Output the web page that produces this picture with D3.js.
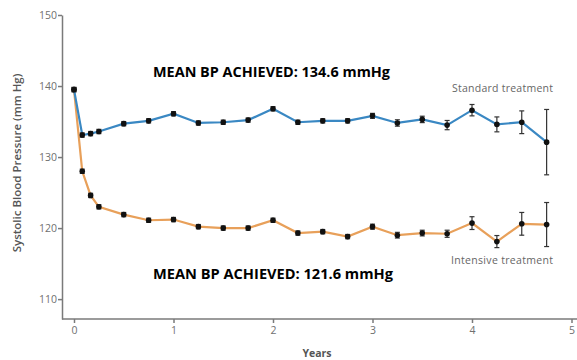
<!DOCTYPE html>
<html>
<head>
<meta charset="utf-8">
<script src="https://d3js.org/d3.v7.min.js"></script>
<style>
body { margin: 0; background: #fff; }
svg { display: block; }
</style>
</head>
<body>
<svg width="577" height="360"></svg>
<script>
// follow-up times (years)
var years = [0, 0.083, 0.167, 0.25, 0.5, 0.75, 1, 1.25, 1.5, 1.75, 2, 2.25, 2.5, 2.75, 3, 3.25, 3.5, 3.75, 4, 4.25, 4.5, 4.75];
var standardBP = [139.5, 133.1, 133.3, 133.6, 134.7, 135.1, 136.1, 134.8, 134.9, 135.2, 136.8, 134.9, 135.1, 135.1, 135.8, 134.8, 135.3, 134.5, 136.6, 134.6, 134.9, 132.1];
var standardErr = [0.3, 0.3, 0.3, 0.3, 0.3, 0.3, 0.3, 0.3, 0.3, 0.3, 0.3, 0.3, 0.3, 0.3, 0.35, 0.45, 0.45, 0.65, 0.8, 1.05, 1.6, 4.6];
var intensiveBP = [139.5, 128.0, 124.6, 123.0, 121.9, 121.1, 121.2, 120.2, 120.0, 120.0, 121.1, 119.3, 119.5, 118.8, 120.2, 119.0, 119.3, 119.2, 120.7, 118.1, 120.6, 120.5];
var intensiveErr = [0.3, 0.3, 0.3, 0.3, 0.3, 0.3, 0.3, 0.3, 0.3, 0.3, 0.3, 0.3, 0.3, 0.3, 0.35, 0.4, 0.4, 0.5, 0.9, 0.85, 1.6, 3.1];
var xTicks = [0, 1, 2, 3, 4, 5];
var yTicks = [110, 120, 130, 140, 150];

var svg = d3.select("svg");
var axisColor = "#7a7a7a";

var x = d3.scaleLinear().domain([0, 5]).range([74, 571.5]);
var y = d3.scaleLinear().domain([107.2, 150]).range([319, 15]);

// axes
var xAxis = svg.append("g")
	.attr("transform", "translate(0,319)")
	.call(d3.axisBottom(x).tickValues(xTicks).tickSize(4).tickSizeOuter(0).tickFormat(d3.format("d")));
xAxis.select(".domain").attr("d", "M62,0H577");

var yAxis = svg.append("g")
	.attr("transform", "translate(62,0)")
	.call(d3.axisLeft(y).tickValues(yTicks).tickSize(4).tickSizeOuter(0));

svg.selectAll(".domain, .tick line")
	.attr("stroke", axisColor)
	.attr("stroke-width", 1.5);
svg.selectAll(".tick text")
	.attr("fill", "#707070")
	.style("font-family", "'Open Sans', sans-serif")
	.style("font-size", "10.5px");
yAxis.selectAll(".tick text").attr("x", -5);
xAxis.selectAll(".tick text").attr("y", 8);

svg.append("text")
	.attr("transform", "translate(21,163) rotate(-90)")
	.attr("text-anchor", "middle")
	.attr("fill", "#555")
	.style("font-family", "'Open Sans', sans-serif")
	.style("font-size", "11.5px")
	.style("font-weight", "600")
	.text("Systolic Blood Pressure (mm Hg)");

svg.append("text")
	.attr("x", 317)
	.attr("y", 356.5)
	.attr("text-anchor", "middle")
	.attr("fill", "#555")
	.style("font-family", "'Open Sans', sans-serif")
	.style("font-size", "10.5px")
	.style("font-weight", "700")
	.text("Years");

function drawSeries(values, errs, color) {
	var pts = years.map(function(t, i) { return {t: t, v: values[i], e: errs[i]}; });
	var line = d3.line().x(function(d) { return x(d.t); }).y(function(d) { return y(d.v); });

	svg.append("path")
		.datum(pts)
		.attr("d", line)
		.attr("fill", "none")
		.attr("stroke", color)
		.attr("stroke-width", 2.2);

	var g = svg.append("g").selectAll("g").data(pts).enter().append("g");
	g.append("line")
		.attr("x1", function(d) { return x(d.t); })
		.attr("x2", function(d) { return x(d.t); })
		.attr("y1", function(d) { return y(d.v - d.e); })
		.attr("y2", function(d) { return y(d.v + d.e); })
		.attr("stroke", "#333")
		.attr("stroke-width", 1.2);
	[-1, 1].forEach(function(s) {
		g.append("line")
			.attr("x1", function(d) { return x(d.t) - 2.5; })
			.attr("x2", function(d) { return x(d.t) + 2.5; })
			.attr("y1", function(d) { return y(d.v + s * d.e); })
			.attr("y2", function(d) { return y(d.v + s * d.e); })
			.attr("stroke", "#333")
			.attr("stroke-width", 1.2);
	});
	g.append("circle")
		.attr("cx", function(d) { return x(d.t); })
		.attr("cy", function(d) { return y(d.v); })
		.attr("r", 2.8)
		.attr("fill", "#111");
}

drawSeries(intensiveBP, intensiveErr, "#e8a05a");
drawSeries(standardBP, standardErr, "#3a88c3");

// labels
svg.append("text")
	.attr("x", 452).attr("y", 92)
	.attr("textLength", 101)
	.attr("fill", "#666")
	.style("font-family", "'Open Sans', sans-serif")
	.style("font-size", "10.5px")
	.text("Standard treatment");
svg.append("text")
	.attr("x", 451).attr("y", 264)
	.attr("textLength", 102)
	.attr("fill", "#666")
	.style("font-family", "'Open Sans', sans-serif")
	.style("font-size", "10.5px")
	.text("Intensive treatment");

svg.append("text")
	.attr("x", 153).attr("y", 76.5)
	.attr("textLength", 237)
	.attr("lengthAdjust", "spacingAndGlyphs")
	.attr("fill", "#000")
	.style("font-family", "'Open Sans', sans-serif")
	.style("font-size", "13.5px")
	.style("font-weight", "700")
	.text("MEAN BP ACHIEVED: 134.6 mmHg");
svg.append("text")
	.attr("x", 153).attr("y", 279)
	.attr("textLength", 240)
	.attr("lengthAdjust", "spacingAndGlyphs")
	.attr("fill", "#000")
	.style("font-family", "'Open Sans', sans-serif")
	.style("font-size", "13.5px")
	.style("font-weight", "700")
	.text("MEAN BP ACHIEVED: 121.6 mmHg");
</script>
</body>
</html>
